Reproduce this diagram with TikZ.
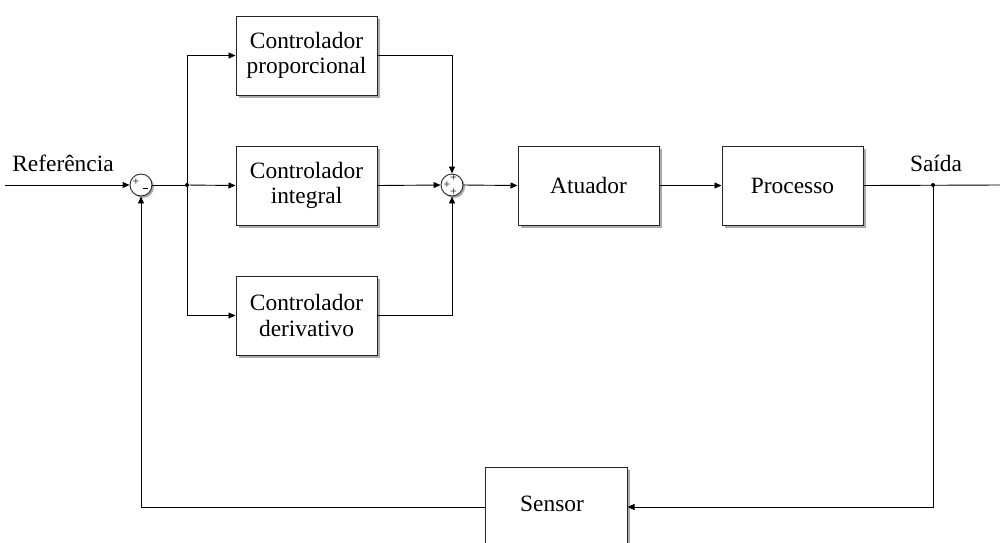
\documentclass[tikz,border=0pt]{standalone}
\usepackage{fontspec}
\setmainfont{Liberation Serif}
\usetikzlibrary{arrows.meta,shadows}
\begin{document}
\begin{tikzpicture}[x=1pt,y=-1pt,
  line width=0.9pt,
  arr/.style={-{Triangle[length=7pt,width=6pt]}},
  blockbox/.style={draw=black!85, fill=white, line width=1pt,
    minimum width=141pt, minimum height=79pt, align=center,
    font=\fontsize{23.4}{25.5}\selectfont,
    drop shadow={shadow xshift=2.5pt, shadow yshift=-2.5pt, fill=black!55, opacity=0.6}},
  sumnode/.style={circle, draw=black!85, fill=white, line width=0.9pt,
    minimum size=22pt, inner sep=0pt,
    drop shadow={shadow xshift=2pt, shadow yshift=-2pt, fill=black!55, opacity=0.6}},
  sgn/.style={font=\fontsize{12}{12}\selectfont, inner sep=0pt},
  lbl/.style={font=\fontsize{23.4}{25.5}\selectfont, inner sep=0pt},
  dot/.style={circle, fill=black, inner sep=0pt, minimum size=4pt}]
\clip (0,0) rectangle (1000,542);
\fill[white] (0,0) rectangle (1000,542);

% blocks
\node[blockbox] (prop) at (306.5,55.5) {Controlador\\proporcional};
\node[blockbox] (integ) at (306.5,185.5) {Controlador\\integral};
\node[blockbox] (deriv) at (306.5,315.5) {Controlador\\derivativo};
\node[blockbox] (atu) at (588.5,185.5) {Atuador};
\node[blockbox] (proc) at (792.5,185.5) {Processo};
\node[blockbox, minimum width=142pt, minimum height=90pt] (sens) at (556,512) {};
\node[lbl] at (552,504) {Sensor};

% summing junctions
\node[sumnode] (s1) at (141,185) {};
\node[sgn] at (136,182) {+};
\node[sgn] at (145.5,189.5) {\rule[2.5pt]{5.5pt}{0.8pt}};
\node[sumnode] (s2) at (452,185) {};
\node[sgn] at (453.5,178.5) {+};
\node[sgn] at (447,185.5) {+};
\node[sgn] at (453.5,192) {+};

% reference input
\coordinate (in) at (5,185);
\node[lbl] at (63,163) {Referência};
\draw[arr] (in) -- (s1);

% branch to the three controllers
\node[dot] (b1) at (187,185) {};
\draw (s1) -- (b1);
\draw[arr] (b1) |- (prop.west);
\draw[arr] (b1) -- (integ.west);
\draw[arr] (b1) |- (deriv.west);

% controller outputs into the second junction
\draw[arr] (prop.east) -| (s2.north);
\draw[arr] (integ.east) -- (s2.west);
\draw[arr] (deriv.east) -| (s2.south);

% forward path
\draw[arr] (s2.east) -- (atu.west);
\draw[arr] (atu.east) -- (proc.west);
\coordinate (out) at (1000,185);
\draw (proc.east) -- (out);
\node[lbl] at (936,163) {Saída};
\node[dot] (b2) at (933,185) {};

% feedback path
\coordinate (fb) at (933,507);
\draw[arr] (b2) -- (fb) -- (sens.east |- fb);
\draw[arr] (sens.west |- fb) -| (s1.south);
\end{tikzpicture}
\end{document}
